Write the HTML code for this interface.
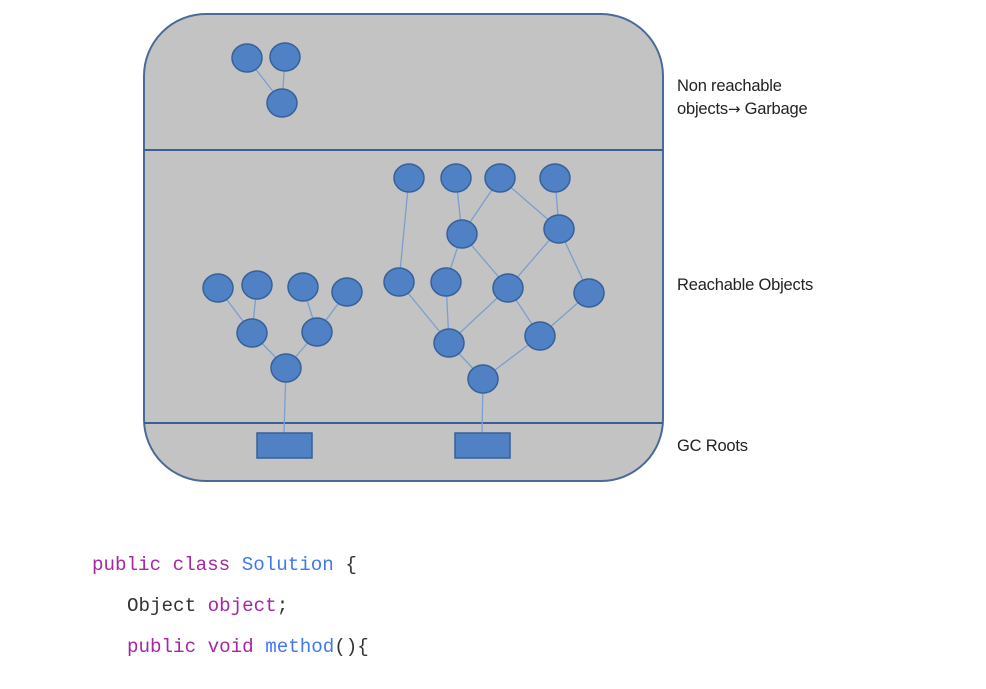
<!DOCTYPE html>
<html><head><meta charset="utf-8"><style>
body{margin:0;background:#fff;width:986px;height:689px;overflow:hidden;position:relative}
.lbl{position:absolute;left:677px;font:16.5px "Liberation Sans",sans-serif;color:#222;line-height:23px;letter-spacing:-0.2px}
.code{position:absolute;font:19.2px "Liberation Mono",monospace;color:#333;white-space:pre}
.k{color:#a626a4}.b{color:#4078f2}
</style></head><body>
<svg width="986" height="689" style="position:absolute;left:0;top:0">
<rect x="144" y="14" width="519" height="467" rx="62" fill="#c3c3c3" stroke="#4a6a9a" stroke-width="2"/>
<line x1="144" y1="150" x2="663" y2="150" stroke="#3d5f8f" stroke-width="2"/>
<line x1="144" y1="423" x2="663" y2="423" stroke="#3d5f8f" stroke-width="2"/>
<g stroke="#7a9fd0" stroke-width="1.3">
<line x1="282" y1="103" x2="247" y2="58"/><line x1="282" y1="103" x2="285" y2="57"/>
<line x1="284" y1="433" x2="286" y2="368"/>
<line x1="286" y1="368" x2="252" y2="333"/><line x1="286" y1="368" x2="317" y2="332"/>
<line x1="252" y1="333" x2="218" y2="288"/><line x1="252" y1="333" x2="257" y2="285"/>
<line x1="317" y1="332" x2="303" y2="287"/><line x1="317" y1="332" x2="347" y2="292"/>
<line x1="482" y1="433" x2="483" y2="379"/>
<line x1="483" y1="379" x2="449" y2="343"/><line x1="483" y1="379" x2="540" y2="336"/>
<line x1="449" y1="343" x2="399" y2="282"/><line x1="449" y1="343" x2="446" y2="282"/><line x1="449" y1="343" x2="508" y2="288"/>
<line x1="540" y1="336" x2="508" y2="288"/><line x1="540" y1="336" x2="589" y2="293"/>
<line x1="399" y1="282" x2="409" y2="178"/>
<line x1="446" y1="282" x2="462" y2="234"/><line x1="508" y1="288" x2="462" y2="234"/>
<line x1="508" y1="288" x2="559" y2="229"/><line x1="589" y1="293" x2="559" y2="229"/>
<line x1="462" y1="234" x2="456" y2="178"/><line x1="462" y1="234" x2="500" y2="178"/>
<line x1="559" y1="229" x2="500" y2="178"/><line x1="559" y1="229" x2="555" y2="178"/>
</g>
<g fill="#4f81c4" stroke="#36609a" stroke-width="1.5">
<ellipse cx="247" cy="58" rx="15" ry="14"/><ellipse cx="285" cy="57" rx="15" ry="14"/><ellipse cx="282" cy="103" rx="15" ry="14"/>
<ellipse cx="218" cy="288" rx="15" ry="14"/><ellipse cx="257" cy="285" rx="15" ry="14"/><ellipse cx="303" cy="287" rx="15" ry="14"/><ellipse cx="347" cy="292" rx="15" ry="14"/>
<ellipse cx="252" cy="333" rx="15" ry="14"/><ellipse cx="317" cy="332" rx="15" ry="14"/><ellipse cx="286" cy="368" rx="15" ry="14"/>
<ellipse cx="409" cy="178" rx="15" ry="14"/><ellipse cx="456" cy="178" rx="15" ry="14"/><ellipse cx="500" cy="178" rx="15" ry="14"/><ellipse cx="555" cy="178" rx="15" ry="14"/>
<ellipse cx="462" cy="234" rx="15" ry="14"/><ellipse cx="559" cy="229" rx="15" ry="14"/>
<ellipse cx="399" cy="282" rx="15" ry="14"/><ellipse cx="446" cy="282" rx="15" ry="14"/><ellipse cx="508" cy="288" rx="15" ry="14"/><ellipse cx="589" cy="293" rx="15" ry="14"/>
<ellipse cx="449" cy="343" rx="15" ry="14"/><ellipse cx="540" cy="336" rx="15" ry="14"/><ellipse cx="483" cy="379" rx="15" ry="14"/>
<rect x="257" y="433" width="55" height="25"/><rect x="455" y="433" width="55" height="25"/>
</g>
</svg>
<div class="lbl" style="top:75px">Non reachable<br>objects<span style="font-family:'DejaVu Sans';font-size:15px">→</span> Garbage</div>
<div class="lbl" style="top:274px">Reachable Objects</div>
<div class="lbl" style="top:435px">GC Roots</div>
<div class="code" style="left:92px;top:554px"><span class="k">public class</span> <span class="b">Solution</span> {</div>
<div class="code" style="left:127px;top:595px">Object <span class="k">object</span>;</div>
<div class="code" style="left:127px;top:636px"><span class="k">public void</span> <span class="b">method</span>(){</div>
</body></html>
